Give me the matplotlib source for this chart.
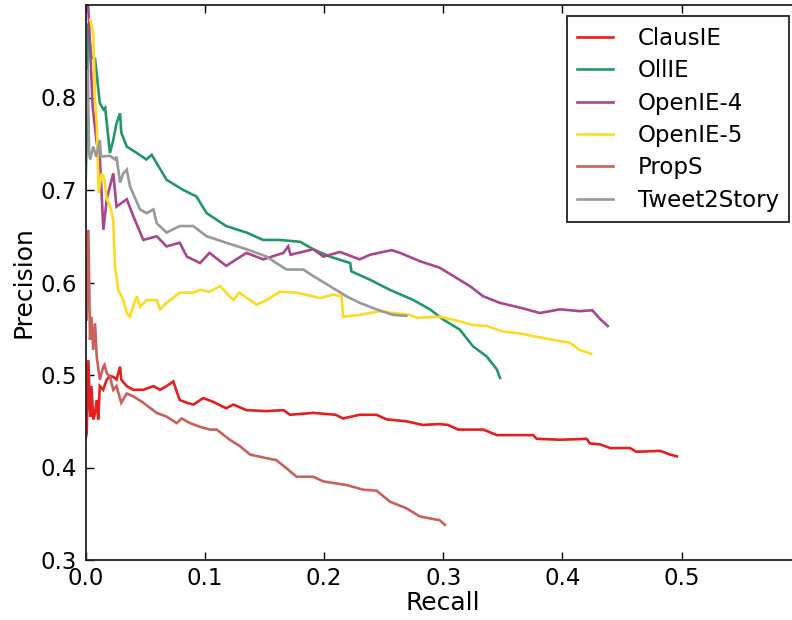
import matplotlib
matplotlib.use("Agg")
import matplotlib.pyplot as plt

# Precision / recall curves per extraction system
labels = ["ClausIE", "OllIE", "OpenIE-4", "OpenIE-5", "PropS", "Tweet2Story"]
colors = ["#e31f1f", "#24976a", "#a8478a", "#fcdb22", "#c9615c", "#999999"]

clausie_recall = [0.000, 0.001, 0.0024, 0.004, 0.005, 0.0065, 0.008, 0.0094, 0.0107, 0.012, 0.0148,
                  0.0178, 0.0205, 0.0233, 0.026, 0.029, 0.030, 0.0346, 0.040, 0.0485, 0.057, 0.0625,
                  0.068, 0.0736, 0.079, 0.085, 0.0904, 0.0988, 0.107, 0.118, 0.124, 0.135, 0.152,
                  0.166, 0.1715, 0.191, 0.2098, 0.216, 0.230, 0.244, 0.2526, 0.269, 0.283, 0.297,
                  0.304, 0.3126, 0.3336, 0.345, 0.3755, 0.3784, 0.398, 0.4203, 0.423, 0.4315,
                  0.440, 0.4566, 0.462, 0.482, 0.4903, 0.496]
clausie_precision = [0.430, 0.437, 0.516, 0.455, 0.488, 0.452, 0.459, 0.473, 0.452, 0.488, 0.484,
                     0.495, 0.499, 0.498, 0.495, 0.509, 0.495, 0.488, 0.484, 0.484, 0.488, 0.484,
                     0.488, 0.493, 0.473, 0.470, 0.468, 0.475, 0.471, 0.464, 0.468, 0.462, 0.461,
                     0.462, 0.457, 0.459, 0.457, 0.453, 0.457, 0.457, 0.452, 0.450, 0.446, 0.447,
                     0.446, 0.441, 0.441, 0.435, 0.435, 0.431, 0.430, 0.431, 0.426, 0.425,
                     0.421, 0.421, 0.417, 0.418, 0.414, 0.412]

ollie_recall = [0.000, 0.001, 0.002, 0.005, 0.008, 0.012, 0.015, 0.0165, 0.0205, 0.0233, 0.026,
                0.029, 0.030, 0.0346, 0.043, 0.051, 0.0555, 0.0597, 0.068, 0.082, 0.093, 0.1016,
                0.118, 0.135, 0.149, 0.163, 0.180, 0.191, 0.205, 0.222, 0.223, 0.2386, 0.2554,
                0.275, 0.2889, 0.300, 0.314, 0.325, 0.3365, 0.345, 0.3476]
ollie_precision = [0.700, 0.760, 0.880, 0.843, 0.842, 0.794, 0.787, 0.789, 0.740, 0.754, 0.772,
                   0.783, 0.762, 0.747, 0.740, 0.733, 0.738, 0.729, 0.711, 0.700, 0.693, 0.675,
                   0.661, 0.654, 0.646, 0.646, 0.644, 0.636, 0.628, 0.621, 0.612, 0.603, 0.592,
                   0.581, 0.571, 0.560, 0.549, 0.531, 0.520, 0.506, 0.497]

openie4_recall = [0.001, 0.003, 0.006, 0.0094, 0.012, 0.015, 0.0178, 0.0205, 0.0233, 0.026,
                  0.0346, 0.040, 0.0485, 0.0597, 0.068, 0.079, 0.085, 0.096, 0.104, 0.118, 0.135,
                  0.149, 0.166, 0.170, 0.172, 0.191, 0.1995, 0.2134, 0.230, 0.2386, 0.2568,
                  0.2638, 0.2805, 0.297, 0.3085, 0.3225, 0.3336, 0.3476, 0.367, 0.381, 0.398,
                  0.4147, 0.425, 0.432, 0.438]
openie4_precision = [0.930, 0.880, 0.790, 0.751, 0.736, 0.657, 0.690, 0.704, 0.718, 0.682,
                     0.690, 0.672, 0.646, 0.650, 0.639, 0.643, 0.628, 0.621, 0.632, 0.618, 0.632,
                     0.625, 0.632, 0.639, 0.630, 0.636, 0.628, 0.633, 0.625, 0.630, 0.635,
                     0.632, 0.623, 0.616, 0.607, 0.596, 0.585, 0.578, 0.572, 0.567, 0.571,
                     0.569, 0.570, 0.560, 0.553]

openie5_recall = [0.004, 0.0065, 0.008, 0.0094, 0.011, 0.0136, 0.016, 0.0178, 0.0205, 0.0233,
                  0.0247, 0.0275, 0.0317, 0.0346, 0.0373, 0.040, 0.043, 0.0457, 0.0513, 0.0597,
                  0.0625, 0.068, 0.079, 0.0904, 0.096, 0.104, 0.1128, 0.124, 0.129, 0.1436, 0.152,
                  0.163, 0.177, 0.191, 0.1967, 0.2078, 0.2148, 0.216, 0.230, 0.247, 0.258, 0.272,
                  0.2777, 0.297, 0.314, 0.325, 0.3365, 0.350, 0.3644, 0.3755, 0.392, 0.406,
                  0.4147, 0.424]
openie5_precision = [0.884, 0.870, 0.798, 0.775, 0.697, 0.718, 0.711, 0.690, 0.683, 0.668,
                     0.618, 0.592, 0.581, 0.567, 0.563, 0.574, 0.585, 0.574, 0.581, 0.581,
                     0.571, 0.578, 0.589, 0.589, 0.592, 0.590, 0.596, 0.581, 0.589, 0.576, 0.581,
                     0.590, 0.589, 0.585, 0.583, 0.587, 0.585, 0.563, 0.565, 0.569, 0.567, 0.565,
                     0.562, 0.563, 0.558, 0.554, 0.553, 0.547, 0.545, 0.542, 0.538, 0.535,
                     0.527, 0.523]

props_recall = [0.001, 0.0024, 0.0038, 0.005, 0.0065, 0.008, 0.0094, 0.012, 0.015, 0.016,
                0.0178, 0.0205, 0.0233, 0.026, 0.030, 0.0346, 0.040, 0.0485, 0.0597, 0.068,
                0.0765, 0.0807, 0.0876, 0.096, 0.1044, 0.110, 0.121, 0.1296, 0.138, 0.152, 0.160,
                0.1687, 0.1715, 0.177, 0.191, 0.1995, 0.219, 0.233, 0.244, 0.2554, 0.269, 0.2805,
                0.297, 0.3015]
props_precision = [0.560, 0.657, 0.538, 0.563, 0.527, 0.556, 0.520, 0.495, 0.509, 0.511,
                   0.502, 0.498, 0.484, 0.488, 0.470, 0.480, 0.477, 0.470, 0.459, 0.455,
                   0.448, 0.453, 0.448, 0.444, 0.441, 0.441, 0.430, 0.423, 0.414, 0.410, 0.408,
                   0.399, 0.396, 0.390, 0.390, 0.385, 0.381, 0.376, 0.375, 0.363, 0.356, 0.347,
                   0.343, 0.338]

tweet2story_recall = [0.001, 0.002, 0.003, 0.004, 0.0065, 0.009, 0.012, 0.013, 0.0205, 0.0247,
                      0.026, 0.029, 0.0317, 0.0346, 0.0373, 0.0457, 0.0513, 0.057, 0.0597, 0.068,
                      0.079, 0.0904, 0.1016, 0.118, 0.135, 0.152, 0.160, 0.1687, 0.1827, 0.191,
                      0.205, 0.219, 0.230, 0.244, 0.258, 0.269]
tweet2story_precision = [0.780, 0.830, 0.740, 0.733, 0.747, 0.736, 0.754, 0.736, 0.737, 0.733,
                         0.736, 0.708, 0.718, 0.722, 0.704, 0.679, 0.675, 0.679, 0.664, 0.654,
                         0.661, 0.661, 0.650, 0.643, 0.636, 0.628, 0.621, 0.614, 0.614, 0.607,
                         0.596, 0.585, 0.578, 0.571, 0.565, 0.564]

series = [
    (clausie_recall, clausie_precision),
    (ollie_recall, ollie_precision),
    (openie4_recall, openie4_precision),
    (openie5_recall, openie5_precision),
    (props_recall, props_precision),
    (tweet2story_recall, tweet2story_precision),
]

x_ticks = [0.0, 0.1, 0.2, 0.3, 0.4, 0.5]
y_ticks = [0.3, 0.4, 0.5, 0.6, 0.7, 0.8]

plt.rcParams["font.family"] = "DejaVu Sans"

fig = plt.figure(figsize=(7.92, 6.20), dpi=100)
ax_left, ax_bottom = 85.5 / 792, 60 / 620
ax = fig.add_axes([ax_left, ax_bottom, 715.4 / 792, 555 / 620])

for (rec, prec), lab, col in zip(series, labels, colors):
    ax.plot(rec, prec, color=col, lw=1.9, label=lab, solid_joinstyle="miter")

ax.set_xlim(0.0, 0.6)
ax.set_ylim(0.3, 0.9)
ax.set_xticks(x_ticks)
ax.set_yticks(y_ticks)
ax.set_xticklabels([f"{v:.1f}" for v in x_ticks])
ax.set_yticklabels([f"{v:.1f}" for v in y_ticks])
ax.tick_params(direction="in", top=True, right=True, length=6, width=1,
               labelsize=16.5, colors="black")
ax.tick_params(axis="y", pad=6)
ax.tick_params(axis="x", pad=5)
for sp in ax.spines.values():
    sp.set_linewidth(1.3)
    sp.set_color("#222222")

ax.set_xlabel("Recall", fontsize=18, labelpad=1)
ax.set_ylabel("Precision", fontsize=18, labelpad=4)

leg = ax.legend(loc="upper right", fontsize=16.5, frameon=True, fancybox=False,
                edgecolor="#222222", framealpha=1, borderaxespad=0.5,
                handlelength=1.55, handletextpad=1.1, labelspacing=0.41,
                borderpad=0.45)
leg.get_frame().set_linewidth(1.3)

fig.savefig("out.png", dpi=100)
